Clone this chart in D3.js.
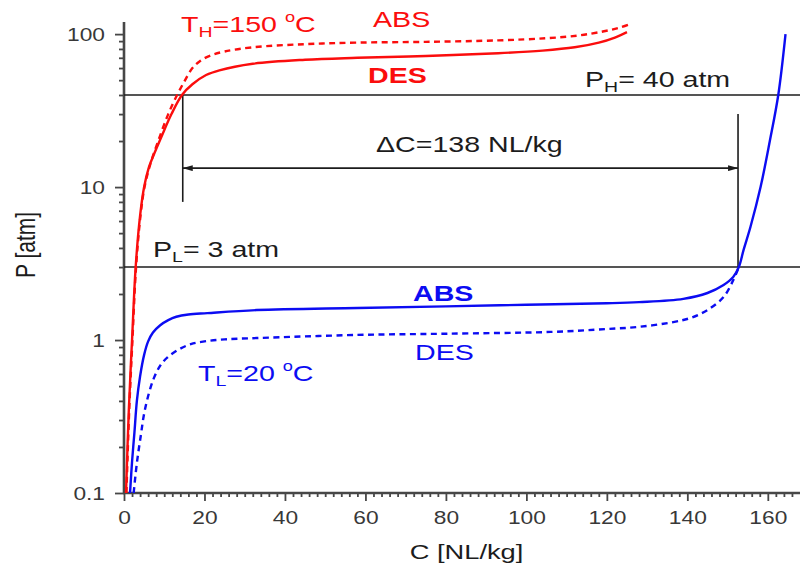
<!DOCTYPE html>
<html>
<head>
<meta charset="utf-8">
<script src="https://cdn.jsdelivr.net/npm/d3@7"></script>
<style>
  body { margin: 0; background: #fff; }
  svg { display: block; font-family: "Liberation Sans", Arial, sans-serif; }
</style>
</head>
<body>
<div class="chart"></div>
<script>
// Isotherms: C [NL/kg] vs P [atm]
let redAbsC = [0.6, 1.3, 2.1, 3.0, 4.1, 5.1, 6.5, 8.5, 11, 13.2, 15, 17, 19, 21.5, 25, 32, 45, 58, 75, 93, 105, 113, 119, 123, 126];
let redAbsP = [0.1, 0.35, 1, 3, 6.5, 10, 14, 20, 30, 40, 49, 60, 67, 72.5, 77, 82, 86, 88, 89, 91, 94, 98, 104, 110, 117];

let redDesC = [0.5, 1.2, 2.0, 2.9, 4.0, 5.0, 6.2, 7.5, 9.2, 11.8, 14.4, 17, 20.4, 23.7, 32, 45, 58, 75, 93, 104, 112, 118, 122, 125];
let redDesP = [0.1, 0.35, 1, 3, 6.5, 10, 13.5, 16.5, 21, 30, 40, 47, 54, 58, 64, 68, 70, 72, 75, 78, 82, 88, 95, 103];

let blueAbsC = [1.5, 2.0, 2.6, 3.2, 4.0, 5.0, 6.0, 7.2, 9.0, 11, 13, 16, 20.7, 33, 58, 80, 100, 120, 128, 139, 145, 149, 151.4, 152.8, 154, 155.7, 158.2, 160.5, 162.6, 164.4];
let blueAbsP = [0.1, 0.16, 0.25, 0.4, 0.58, 0.8, 0.98, 1.12, 1.25, 1.35, 1.42, 1.47, 1.5, 1.57, 1.62, 1.66, 1.7, 1.74, 1.77, 1.86, 2.03, 2.29, 2.58, 3, 3.9, 5.5, 10, 20, 40, 100];

let blueDesC = [2.4, 3.2, 4.2, 5.0, 6.2, 7.5, 9.0, 10.8, 13.7, 16.6, 20, 25, 33, 58, 80, 106, 120, 128, 136.5, 141, 145, 149, 151.4, 152.8];
let blueDesP = [0.1, 0.157, 0.24, 0.33, 0.45, 0.57, 0.68, 0.77, 0.87, 0.94, 0.98, 1.01, 1.03, 1.08, 1.1, 1.13, 1.18, 1.22, 1.31, 1.4, 1.57, 1.91, 2.46, 3];

// pressure levels and working capacity marks
let pHigh = 40, pLow = 3;
let dcLeft = 14.6, dcRight = 152.6;
let leftBarBottom = 8, rightBarTop = 30, arrowP = 13.3;

let xTicks = [0, 20, 40, 60, 80, 100, 120, 140, 160];
let yTicks = [0.1, 1, 10, 100];
let yTickLabels = ["0.1", "1", "10", "100"];

// chart setup
let svgWidth = 801, svgHeight = 570;
let margin = { top: 22, right: 1, bottom: 77, left: 124 };
let chartWidth = svgWidth - margin.left - margin.right;
let chartHeight = svgHeight - margin.top - margin.bottom;
let SX = 1.3; // the source is stretched sideways

let RED = "#fb0d0d", BLUE = "#0c0cf2", INK = "#1c1c1c", AXIS = "#474747";

let svg = d3.select(".chart").append("svg")
  .attr("width", svgWidth)
  .attr("height", svgHeight);

let chart = svg.append("g")
  .attr("transform", `translate(${margin.left}, ${margin.top})`);

let x = d3.scaleLinear().domain([0, 168]).range([0, chartWidth]);
let y = d3.scaleLog().domain([0.1, 120]).range([chartHeight, 0]);

// minor ticks
let xMinor = d3.range(2, 168, 2).filter(d => d % 20 !== 0);
let yMinor = [];
[0.1, 1, 10].forEach(d => { for (let k = 2; k <= 9; k++) yMinor.push(+(k * d).toFixed(2)); });

function styleAxis(g) {
  g.select(".domain").remove();
  g.selectAll(".tick line").attr("stroke", AXIS).attr("stroke-width", 1.8);
}

chart.append("g")
  .attr("transform", `translate(0, ${chartHeight})`)
  .call(d3.axisBottom(x).tickValues(xMinor).tickSize(4).tickFormat(""))
  .call(styleAxis);
chart.append("g")
  .call(d3.axisLeft(y).tickValues(yMinor).tickSize(5).tickFormat(""))
  .call(styleAxis);

let xAxis = chart.append("g")
  .attr("transform", `translate(0, ${chartHeight})`)
  .call(d3.axisBottom(x).tickValues(xTicks).tickSize(8).tickFormat(d3.format("d")))
  .call(styleAxis);
xAxis.selectAll("text")
  .attr("y", 31).attr("dy", 0)
  .attr("transform", `scale(${SX},1)`)
  .attr("font-size", 17.5).attr("font-family", "Liberation Sans, Arial, sans-serif")
  .attr("fill", "#383838");

let yAxis = chart.append("g")
  .call(d3.axisLeft(y).tickValues(yTicks).tickSize(9).tickFormat((d, i) => yTickLabels[i]))
  .call(styleAxis);
yAxis.selectAll("text")
  .attr("x", 0).attr("dy", "0.35em")
  .attr("transform", `translate(-19,0) scale(${SX},1)`)
  .attr("font-size", 17.5).attr("font-family", "Liberation Sans, Arial, sans-serif")
  .attr("fill", "#383838");

// axis lines
chart.append("line").attr("x1", 0).attr("x2", 0).attr("y1", 0).attr("y2", chartHeight)
  .attr("stroke", AXIS).attr("stroke-width", 2.6);
chart.append("line").attr("x1", -1).attr("x2", chartWidth).attr("y1", chartHeight).attr("y2", chartHeight)
  .attr("stroke", AXIS).attr("stroke-width", 2.6);

// pressure levels
[pHigh, pLow].forEach(p => {
  chart.append("line")
    .attr("x1", 0).attr("x2", chartWidth)
    .attr("y1", y(p)).attr("y2", y(p))
    .attr("stroke", INK).attr("stroke-width", 1.6);
});

// working capacity bars
chart.append("line")
  .attr("x1", x(dcLeft)).attr("x2", x(dcLeft))
  .attr("y1", y(pHigh)).attr("y2", y(leftBarBottom))
  .attr("stroke", INK).attr("stroke-width", 1.6);
chart.append("line")
  .attr("x1", x(dcRight)).attr("x2", x(dcRight))
  .attr("y1", y(rightBarTop)).attr("y2", y(pLow))
  .attr("stroke", INK).attr("stroke-width", 1.6);

svg.append("defs").append("marker")
  .attr("id", "arrow")
  .attr("viewBox", "0 0 10 6")
  .attr("refX", 10).attr("refY", 3)
  .attr("markerWidth", 10).attr("markerHeight", 6)
  .attr("markerUnits", "userSpaceOnUse")
  .attr("orient", "auto-start-reverse")
  .append("path").attr("d", "M0,0 L10,3 L0,6 Z").attr("fill", INK);

chart.append("line")
  .attr("x1", x(dcLeft)).attr("x2", x(dcRight))
  .attr("y1", y(arrowP)).attr("y2", y(arrowP))
  .attr("stroke", INK).attr("stroke-width", 1.6)
  .attr("marker-start", "url(#arrow)")
  .attr("marker-end", "url(#arrow)");

// isotherm curves
let line = d3.line()
  .x(d => x(d[0]))
  .y(d => y(d[1]))
  .curve(d3.curveCatmullRom.alpha(0.5));

function curve(cs, ps, color, dashed) {
  chart.append("path")
    .datum(cs.map((c, i) => [c, ps[i]]))
    .attr("d", line)
    .attr("fill", "none")
    .attr("stroke", color)
    .attr("stroke-width", 2.4)
    .attr("stroke-linejoin", "round")
    .attr("stroke-dasharray", dashed ? "6,4.5" : null);
}
curve(redAbsC, redAbsP, RED, true);
curve(redDesC, redDesP, RED, false);
curve(blueDesC, blueDesP, BLUE, true);
curve(blueAbsC, blueAbsP, BLUE, false);

// text helper: parts are [text, kind]
function label(px, py, parts, color, bold, size) {
  let t = svg.append("text")
    .attr("transform", `translate(${px},${py}) scale(${SX},1)`)
    .attr("fill", color)
    .attr("font-size", size || 22)
    .attr("font-weight", bold ? "bold" : "normal");
  parts.forEach(p => {
    let s = t.append("tspan").text(p[0]);
    if (p[1] === "sub") s.attr("font-size", 15).attr("dy", 5);
    else if (p[1] === "sup") s.attr("font-size", 14).attr("dy", -10);
    else if (p[1] === "back") s.attr("dy", -5);
    else if (p[1] === "down") s.attr("dy", 10);
  });
  return t;
}

label(181, 32, [["T"], ["H", "sub"], ["=150 ", "back"], ["o", "sup"], ["C", "down"]], RED);
label(373, 27, [["ABS"]], RED);
label(368, 83, [["DES"]], RED, true);
label(585, 87, [["P"], ["H", "sub"], ["= 40 atm", "back"]], INK);
label(376, 152, [["\u0394C=138 NL/kg"]], INK);
label(153, 257, [["P"], ["L", "sub"], ["= 3 atm", "back"]], INK);
label(413, 301, [["ABS"]], BLUE, true);
label(415, 360, [["DES"]], BLUE);
label(198, 381, [["T"], ["L", "sub"], ["=20 ", "back"], ["o", "sup"], ["C", "down"]], BLUE);

// axis titles
svg.append("text")
  .attr("transform", `translate(${(408 + 525) / 2},559) scale(${SX},1)`)
  .attr("text-anchor", "middle")
  .attr("font-size", 21)
  .attr("fill", INK)
  .text("C [NL/kg]");
svg.append("text")
  .attr("transform", `translate(35,245) scale(${SX},1) rotate(-90)`)
  .attr("text-anchor", "middle")
  .attr("font-size", 21)
  .attr("fill", INK)
  .text("P [atm]");
</script>
</body>
</html>
